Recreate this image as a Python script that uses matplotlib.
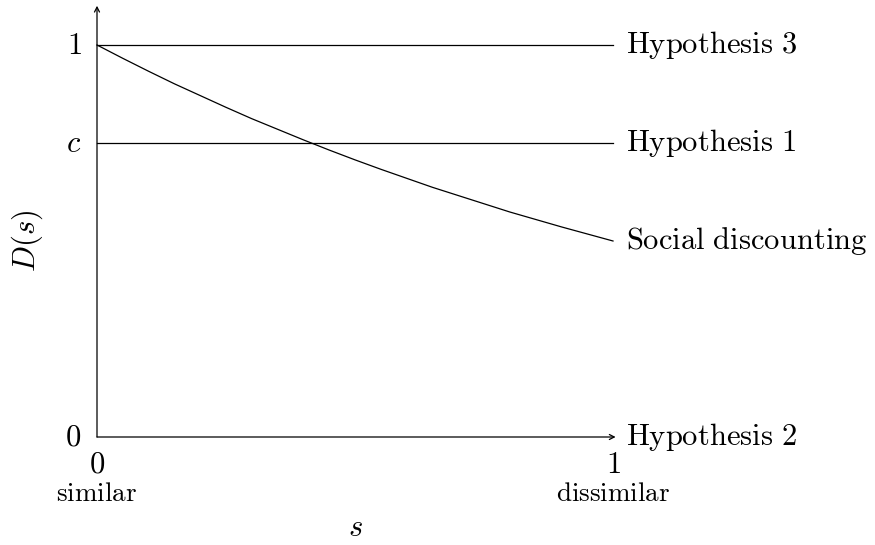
import matplotlib
matplotlib.use("Agg")
import matplotlib.pyplot as plt

plt.rcParams['mathtext.fontset'] = 'cm'
plt.rcParams['font.family'] = ['DejaVu Serif']

# data
s_vals = [0.0, 0.05, 0.1, 0.15, 0.2, 0.25, 0.3, 0.35, 0.4, 0.45, 0.5,
          0.55, 0.6, 0.65, 0.7, 0.75, 0.8, 0.85, 0.9, 0.95, 1.0]
social = [1.0, 0.966, 0.933, 0.901, 0.871, 0.841, 0.812, 0.785, 0.758, 0.732, 0.707,
          0.683, 0.660, 0.637, 0.616, 0.595, 0.574, 0.555, 0.536, 0.518, 0.5]
c_level = 0.75
hyp3 = 1.0
hyp2 = 0.0
y_ticks = [0.0, c_level, 1.0]
y_tick_labels = [r'$0$', r'$c$', r'$1$']
x_ticks = [0.0, 1.0]
x_tick_labels = [r'$0$', r'$1$']
x_tick_sub = [r'$\mathrm{similar}$', r'$\mathrm{dissimilar}$']
line_labels = [r'$\mathrm{Hypothesis\ 3}$', r'$\mathrm{Hypothesis\ 1}$',
               r'$\mathrm{Social\ discounting}$', r'$\mathrm{Hypothesis\ 2}$']

fig = plt.figure(figsize=(8.75, 5.45), dpi=100)
ax = fig.add_axes([97/875, 108/545, (613-97)/875, (437-45)/545])
ax.set_xlim(0, 1)
ax.set_ylim(0, 1)
ax.axis('off')

lw = 0.9
ax.plot([0, 1], [hyp3, hyp3], color='black', lw=lw, clip_on=False)
ax.plot([0, 1], [c_level, c_level], color='black', lw=lw, clip_on=False)
ax.plot(s_vals, social, color='black', lw=lw, clip_on=False)

arrow = dict(arrowstyle='->,head_length=0.35,head_width=0.18', lw=lw, color='black',
             shrinkA=0, shrinkB=0)
ax.annotate('', xy=(1.005, 0), xytext=(0, 0), arrowprops=arrow, annotation_clip=False)
ax.annotate('', xy=(0, 1.10), xytext=(0, 0), arrowprops=arrow, annotation_clip=False)

fs = 22
for yv, lab in zip(y_ticks, y_tick_labels):
    ax.text(-0.03, yv, lab, ha='right', va='center', fontsize=fs)
for xv, lab, sub in zip(x_ticks, x_tick_labels, x_tick_sub):
    ax.text(xv, -0.03, lab, ha='center', va='top', fontsize=fs)
    ax.text(xv, -0.11, sub, ha='center', va='top', fontsize=19.5)

right_y = [hyp3, c_level, social[-1], hyp2]
for yv, lab in zip(right_y, line_labels):
    ax.text(1.025, yv, lab, ha='left', va='center', fontsize=fs)

ax.text(0.5, -0.232, r'$s$', ha='center', va='center', fontsize=fs)
ax.text(-0.135, 0.5, r'$D(s)$', ha='center', va='center', rotation=90, fontsize=fs)

fig.savefig('out.png', dpi=100)
